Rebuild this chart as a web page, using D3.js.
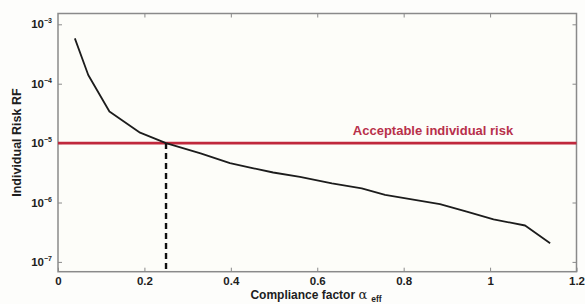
<!DOCTYPE html>
<html>
<head>
<meta charset="utf-8">
<script src="https://cdn.jsdelivr.net/npm/d3@7.9.0/dist/d3.min.js"></script>
<style>
  body { margin: 0; background: #fdfdfb; }
  svg { display: block; font-family: "Liberation Sans", Arial, sans-serif; }
</style>
</head>
<body>
<div id="chart"></div>
<script>
// compliance factor vs individual risk
const alphaVals = [0.039, 0.070, 0.119, 0.190, 0.25, 0.33, 0.398, 0.45, 0.498, 0.56, 0.634, 0.703, 0.757, 0.884, 0.946, 1.008, 1.081, 1.139];
const riskVals  = [5.8e-4, 1.4e-4, 3.4e-5, 1.5e-5, 1.0e-5, 6.7e-6, 4.6e-6, 3.8e-6, 3.2e-6, 2.7e-6, 2.1e-6, 1.73e-6, 1.34e-6, 9.4e-7, 7.0e-7, 5.2e-7, 4.1e-7, 2.06e-7];
const xTicks = [0, 0.2, 0.4, 0.6, 0.8, 1, 1.2];
const yTickExp = [-3, -4, -5, -6, -7];
const acceptableRisk = 1e-5;
const alphaAtLimit = 0.25;
const limitLabel = 'Acceptable individual risk';

const width = 585, height = 304;
const margin = { top: 13.5, right: 8.5, bottom: 32.3, left: 58 };

const svg = d3.select('#chart').append('svg')
  .attr('width', width).attr('height', height);

const x = d3.scaleLinear().domain([0, 1.2])
  .range([margin.left, width - margin.right]);
const y = d3.scaleLog().domain([Math.pow(10, -7.165), Math.pow(10, -2.818)])
  .range([height - margin.bottom, margin.top]);

const axisColor = '#8a8a8a';
const labelColor = '#1e1e1e';

// plot area
svg.append('rect')
  .attr('x', margin.left).attr('y', margin.top)
  .attr('width', width - margin.left - margin.right)
  .attr('height', height - margin.top - margin.bottom)
  .attr('fill', '#fdfdf9')
  .attr('stroke', axisColor).attr('stroke-width', 1.5);

// inward ticks on all four sides
const tickLen = 4;
const styleAxis = (g) => {
  g.select('.domain').remove();
  g.selectAll('.tick line').attr('stroke', axisColor).attr('stroke-width', 1);
};

svg.append('g')
  .attr('transform', `translate(0,${height - margin.bottom})`)
  .call(d3.axisBottom(x).tickValues(xTicks).tickSize(-tickLen).tickPadding(5).tickFormat(d => d))
  .call(styleAxis)
  .call(g => g.selectAll('.tick text')
    .attr('fill', labelColor).attr('font-size', 11.5).attr('font-weight', 'bold'));

svg.append('g')
  .attr('transform', `translate(0,${margin.top})`)
  .call(d3.axisTop(x).tickValues(xTicks.slice(1, -1)).tickSize(-tickLen).tickFormat(''))
  .call(styleAxis);

const yTickVals = yTickExp.map(e => Math.pow(10, e));

svg.append('g')
  .attr('transform', `translate(${margin.left},0)`)
  .call(d3.axisLeft(y).tickValues(yTickVals).tickSize(-tickLen).tickFormat(''))
  .call(styleAxis);

svg.append('g')
  .attr('transform', `translate(${width - margin.right},0)`)
  .call(d3.axisRight(y).tickValues(yTickVals).tickSize(-tickLen).tickFormat(''))
  .call(styleAxis);

// y tick labels as 10^e
const yLab = svg.append('g').attr('fill', labelColor).attr('font-weight', 'bold');
yTickExp.forEach(e => {
  const t = yLab.append('text')
    .attr('x', margin.left - 6)
    .attr('y', y(Math.pow(10, e)) + 4)
    .attr('text-anchor', 'end');
  t.append('tspan').attr('font-size', 11.5).text('10');
  t.append('tspan').attr('font-size', 7).attr('dy', -5).text('\u2212' + Math.abs(e));
});

// acceptable risk line
svg.append('line')
  .attr('x1', margin.left).attr('x2', width - margin.right)
  .attr('y1', y(acceptableRisk)).attr('y2', y(acceptableRisk))
  .attr('stroke', '#c0283c').attr('stroke-width', 2.6);

svg.append('text')
  .attr('x', 433).attr('y', y(acceptableRisk) - 8)
  .attr('text-anchor', 'middle')
  .attr('fill', '#b8304a').attr('font-size', 13).attr('font-weight', 'bold')
  .text(limitLabel);

// dashed drop line
svg.append('line')
  .attr('x1', x(alphaAtLimit)).attr('x2', x(alphaAtLimit))
  .attr('y1', y(acceptableRisk)).attr('y2', height - margin.bottom)
  .attr('stroke', '#111').attr('stroke-width', 2.4)
  .attr('stroke-dasharray', '6,4');

// risk curve
const pts = alphaVals.map((a, i) => [a, riskVals[i]]);
svg.append('path')
  .datum(pts)
  .attr('fill', 'none')
  .attr('stroke', '#1c1c1c').attr('stroke-width', 1.8)
  .attr('stroke-linejoin', 'round')
  .attr('d', d3.line().x(d => x(d[0])).y(d => y(d[1])));

// axis titles
const xt = svg.append('text')
  .attr('x', 316).attr('y', 299)
  .attr('text-anchor', 'middle')
  .attr('fill', labelColor).attr('font-weight', 'bold').attr('font-size', 12);
xt.append('tspan').text('Compliance factor ');
xt.append('tspan').attr('font-weight', 'normal').attr('font-family', 'DejaVu Serif, serif').attr('font-size', 13).text('\u03b1');
xt.append('tspan').attr('font-size', 8.5).attr('dx', 4).attr('dy', 3).text('eff');

svg.append('text')
  .attr('transform', `translate(21,${(margin.top + height - margin.bottom) / 2}) rotate(-90)`)
  .attr('text-anchor', 'middle')
  .attr('fill', labelColor).attr('font-weight', 'bold').attr('font-size', 12.5)
  .text('Individual Risk RF');
</script>
</body>
</html>
